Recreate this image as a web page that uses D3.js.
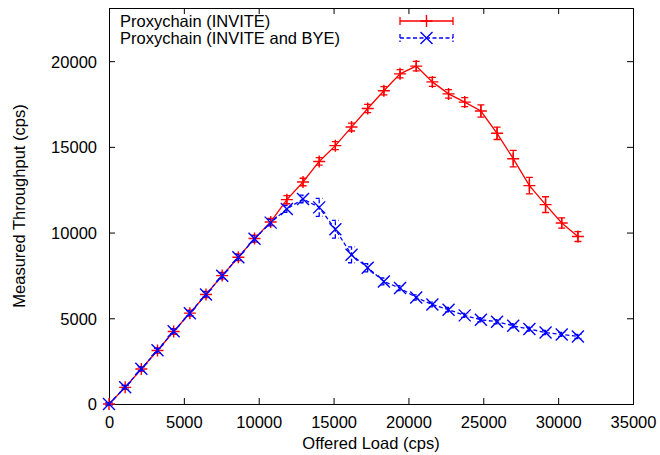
<!DOCTYPE html>
<html><head><meta charset="utf-8">
<script src="https://cdn.jsdelivr.net/npm/d3@7"></script>
<style>
html,body{margin:0;padding:0;background:#fff;}
text{font-family:"Liberation Sans",Arial,Helvetica,sans-serif;font-size:16.5px;fill:#000;}
</style></head>
<body><svg id="c" width="660" height="455"></svg>
<script>
// ---- data ----
const offeredLoad = [0,1080,2160,3240,4320,5400,6480,7560,8640,9720,10800,11880,12960,14040,15120,16200,17280,18360,19440,20520,21600,22680,23760,24840,25920,27000,28080,29160,30240,31320];
const inviteThroughput = [0,970,2040,3120,4230,5300,6390,7490,8560,9650,10620,11920,12950,14150,15070,16155,17240,18270,19260,19710,18790,18090,17610,17090,15790,14310,12740,11630,10560,9770];
const inviteError = [60,120,140,150,160,170,180,190,200,200,210,240,220,220,230,230,240,240,240,280,260,250,260,360,360,480,480,460,300,290];
const byeThroughput = [0,980,2050,3130,4240,5300,6390,7480,8560,9640,10580,11380,11960,11470,10195,8700,7950,7150,6760,6210,5800,5500,5170,4910,4800,4560,4370,4170,4060,3940];
const byeError = [60,100,120,130,140,150,160,170,170,180,190,200,220,520,520,460,240,200,150,150,140,130,120,120,120,120,120,120,120,120];
const seriesNames = ["Proxychain (INVITE)","Proxychain (INVITE and BYE)"];
const xTicks = [0,5000,10000,15000,20000,25000,30000,35000];
const yTicks = [0,5000,10000,15000,20000];
const xTitle = "Offered Load (cps)";
const yTitle = "Measured Throughput (cps)";

// ---- layout ----
const L=109, R=633, T=8, B=404;
const svg = d3.select("#c");
const x = d3.scaleLinear().domain([0,35000]).range([L,R]);
const y = d3.scaleLinear().domain([0,23100]).range([B,T]);
const tick=6;

// axes (gnuplot style, inward ticks mirrored)
const gx = svg.append("g").attr("transform",`translate(0,${B})`)
  .call(d3.axisBottom(x).tickValues(xTicks).tickSize(-tick).tickPadding(12).tickFormat(d3.format("d")));
const gy = svg.append("g").attr("transform",`translate(${L},0)`)
  .call(d3.axisLeft(y).tickValues(yTicks).tickSize(-tick).tickPadding(12).tickFormat(d3.format("d")));
const gxt = svg.append("g").attr("transform",`translate(0,${T})`)
  .call(d3.axisTop(x).tickValues(xTicks).tickSize(-tick).tickFormat(""));
const gyr = svg.append("g").attr("transform",`translate(${R},0)`)
  .call(d3.axisRight(y).tickValues(yTicks).tickSize(-tick).tickFormat(""));
[gx,gy,gxt,gyr].forEach(g=>{
  g.select(".domain").remove();
  g.selectAll(".tick line").attr("stroke","#000").attr("stroke-width",1);
  g.selectAll("text").style("font-size","16.5px").attr("fill","#000");
});
gx.selectAll(".tick text").attr("dy",null).attr("y",24);
gy.selectAll(".tick text").attr("dy","0.36em").attr("x",-12);
svg.append("rect").attr("x",L+0.5).attr("y",T+0.5).attr("width",R-L).attr("height",B-T)
  .attr("fill","none").attr("stroke","#000").attr("stroke-width",1);

// titles
svg.append("text").attr("x",(L+R)/2).attr("y",449).attr("text-anchor","middle").text(xTitle);
svg.append("text").attr("transform",`translate(25,${(T+B)/2}) rotate(-90)`).attr("text-anchor","middle").text(yTitle);

const cap=3.5;
function drawSeries(vals, errs, color, dash, marker){
  const g = svg.append("g");
  const data = offeredLoad.map((d,i)=>({x:d,y:vals[i],e:errs[i]}));
  g.append("path").datum(data)
    .attr("d",d3.line().x(d=>x(d.x)).y(d=>y(d.y)))
    .attr("fill","none").attr("stroke",color).attr("stroke-width",1.3)
    .attr("stroke-dasharray",dash);
  data.forEach(d=>{
    const px=x(d.x), py=y(d.y), y1=y(d.y-d.e), y2=y(d.y+d.e);
    const p = d3.path();
    p.moveTo(px,y1); p.lineTo(px,y2);
    p.moveTo(px-cap,y1); p.lineTo(px+cap,y1);
    p.moveTo(px-cap,y2); p.lineTo(px+cap,y2);
    g.append("path").attr("d",p.toString()).attr("stroke",color).attr("stroke-width",1.3)
      .attr("fill","none").attr("stroke-dasharray",dash);
    drawMarker(g,px,py,color,marker);
  });
}
function drawMarker(g,px,py,color,marker){
  const p=d3.path();
  if(marker==="plus"){
    const ms=6;
    p.moveTo(px-ms,py); p.lineTo(px+ms,py);
    p.moveTo(px,py-ms); p.lineTo(px,py+ms);
  } else {
    const ms=6;
    p.moveTo(px-ms,py-ms); p.lineTo(px+ms,py+ms);
    p.moveTo(px-ms,py+ms); p.lineTo(px+ms,py-ms);
  }
  g.append("path").attr("d",p.toString()).attr("stroke",color).attr("stroke-width",1.4).attr("fill","none");
}

drawSeries(inviteThroughput, inviteError, "#ff0000", null, "plus");
drawSeries(byeThroughput, byeError, "#0000ff", "4,2.5", "cross");

// legend
const legend = [{name:seriesNames[0],color:"#ff0000",dash:null,marker:"plus",y:21},
                {name:seriesNames[1],color:"#0000ff",dash:"4,2.5",marker:"cross",y:38}];
legend.forEach(l=>{
  const g=svg.append("g");
  g.append("text").attr("x",120).attr("y",l.y).attr("dy","0.36em").text(l.name);
  const x0=400,x1=453;
  const p=d3.path();
  p.moveTo(x0,l.y); p.lineTo(x1,l.y);
  p.moveTo(x0,l.y-4); p.lineTo(x0,l.y+4);
  p.moveTo(x1,l.y-4); p.lineTo(x1,l.y+4);
  g.append("path").attr("d",p.toString()).attr("stroke",l.color).attr("stroke-width",1.3)
    .attr("fill","none").attr("stroke-dasharray",l.dash);
  drawMarker(g,(x0+x1)/2,l.y,l.color,l.marker);
});
</script></body></html>
